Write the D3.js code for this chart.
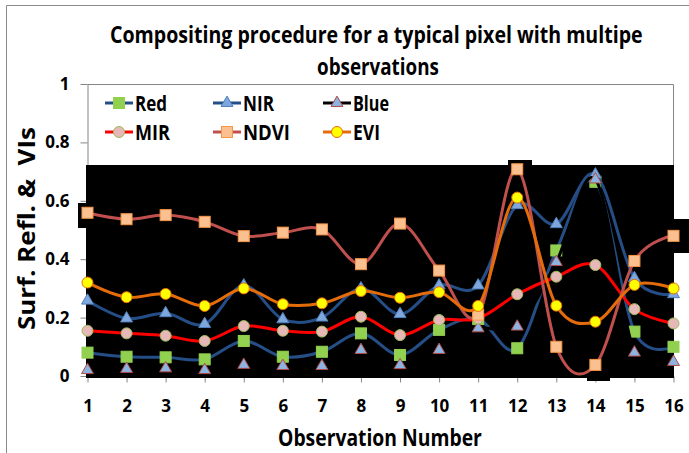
<!DOCTYPE html>
<html><head><meta charset="utf-8">
<script src="https://cdn.jsdelivr.net/npm/d3@7"></script>
<style>body{margin:0;background:#fff}svg{display:block}text{font-family:"Open Sans","Liberation Sans",Arial,sans-serif;font-weight:bold;fill:#000}</style>
</head><body>
<svg id="c" width="689" height="453"></svg>
<script>
const categories = [1,2,3,4,5,6,7,8,9,10,11,12,13,14,15,16];
const red  = [0.08,0.066,0.064,0.057,0.12,0.066,0.083,0.146,0.072,0.158,0.195,0.095,0.43,0.665,0.152,0.10];
const nir  = [0.258,0.197,0.215,0.178,0.31,0.194,0.2,0.30,0.212,0.31,0.31,0.585,0.52,0.69,0.335,0.28];
const blue = [0.02,0.024,0.026,0.02,0.038,0.034,0.034,0.089,0.037,0.089,0.163,0.169,0.39,0.673,0.08,0.048];
const mir  = [0.155,0.146,0.138,0.12,0.171,0.155,0.152,0.203,0.14,0.192,0.197,0.28,0.34,0.38,0.229,0.18];
const ndvi = [0.559,0.537,0.551,0.528,0.479,0.491,0.502,0.383,0.522,0.361,0.21,0.708,0.10,0.038,0.394,0.48];
const evi  = [0.32,0.27,0.281,0.24,0.30,0.246,0.249,0.291,0.268,0.287,0.24,0.611,0.241,0.186,0.312,0.30];
const yTicks = [0,0.2,0.4,0.6,0.8,1];
const yTickLabels = ["0","0.2","0.4","0.6","0.8","1"];
const seriesNames = ["Red","NIR","Blue","MIR","NDVI","EVI"];

const series = [
  {name:"Red",  values:red,  line:"#254E87", marker:"square",   fill:"#92D050", stroke:"#92D050"},
  {name:"NIR",  values:nir,  line:"#254E87", marker:"triangle", fill:"#7FA7DB", stroke:"#4F81BD"},
  {name:"Blue", values:blue, line:"#000000", marker:"triangle", fill:"#8DB3E2", stroke:"#B04A46"},
  {name:"MIR",  values:mir,  line:"#FF0000", marker:"circle",   fill:"#E6B9B8", stroke:"#9BBB59"},
  {name:"NDVI", values:ndvi, line:"#C0504D", marker:"square",   fill:"#FAC090", stroke:"#F79646"},
  {name:"EVI",  values:evi,  line:"#E46C0A", marker:"circle",   fill:"#FFFF00", stroke:"#E46C0A"}
];

const svg = d3.select("#c");
const x = d3.scaleLinear().domain([1,16]).range([87.5,673.5]);
const y = d3.scaleLinear().domain([0,1]).range([376,84]);

// text fitted to a width by horizontal scaling (condensed look)
function fitText(parent, str, tx, ty, size, width, rot){
  const g = parent.append("g");
  const t = g.append("text").attr("x",0).attr("y",0).attr("font-size",size)
    .attr("xml:space","preserve").style("white-space","pre").text(str);
  const w = t.node().getComputedTextLength() || width;
  const sx = width / w;
  g.attr("transform",`translate(${tx},${ty})${rot?` rotate(${rot})`:""} scale(${sx},1)`);
  return g;
}

// outer border (top and left edges visible in the frame)
svg.append("path").attr("d","M6.5,453V5.5H689")
  .attr("fill","none").attr("stroke","#8a8a8a").attr("stroke-width",1);

// title
fitText(svg,"Compositing procedure for a typical pixel with multipe",110,43,23,533);
fitText(svg,"observations",317,75,23,122);

// plot area border
svg.append("path").attr("d","M87.5,84.5H673.5V376")
  .attr("fill","none").attr("stroke","#868686").attr("stroke-width",1);

// axes
const yAxis = d3.axisLeft(y).tickValues(yTicks).tickSize(7).tickSizeOuter(0).tickPadding(11)
  .tickFormat((d,i)=>yTickLabels[i]);
const gy = svg.append("g").attr("transform","translate(87.5,0)").call(yAxis);
const xAxis = d3.axisBottom(x).tickValues(categories).tickSize(6).tickSizeOuter(0).tickPadding(17)
  .tickFormat(d=>String(d));
const gx = svg.append("g").attr("transform","translate(0,376.5)").call(xAxis);
[gy,gx].forEach(g=>{
  g.selectAll("path,line").attr("stroke","#868686");
  g.selectAll("text").attr("font-size",17).attr("font-family","Open Sans, Liberation Sans, Arial, sans-serif").attr("font-weight","bold").attr("fill","#000");
});

// axis titles
fitText(svg,"Surf. Refl. &  VIs",35,330,23,203,-90);
fitText(svg,"Observation Number",278,446,23,204);

// black artifact region
const blk = svg.append("g").attr("fill","#000");
blk.append("rect").attr("x",86).attr("y",165).attr("width",588).attr("height",213);
blk.append("rect").attr("x",78).attr("y",203).attr("width",10).attr("height",25);
blk.append("rect").attr("x",508).attr("y",160).attr("width",24).attr("height",6);
blk.append("rect").attr("x",672).attr("y",219).attr("width",17).attr("height",34);
blk.append("rect").attr("x",587).attr("y",377).attr("width",23).attr("height",4);

// markers
function drawMarker(g, s, cx, cy, scale){
  scale = scale||1;
  if(s.marker==="square"){
    const w=11*scale;
    g.append("rect").attr("x",cx-w/2).attr("y",cy-w/2).attr("width",w).attr("height",w)
      .attr("fill",s.fill).attr("stroke",s.stroke).attr("stroke-width",1);
  } else if(s.marker==="circle"){
    g.append("circle").attr("cx",cx).attr("cy",cy).attr("r",5.5*scale)
      .attr("fill",s.fill).attr("stroke",s.stroke).attr("stroke-width",1);
  } else {
    g.append("path").attr("d",d3.symbol(d3.symbolTriangle, 62*scale*scale)())
      .attr("transform",`translate(${cx},${cy})`)
      .attr("fill",s.fill).attr("stroke",s.stroke).attr("stroke-width",1);
  }
}

const line = d3.line().x((d,i)=>x(categories[i])).y(d=>y(d)).curve(d3.curveCatmullRom.alpha(0));
series.forEach(s=>{
  const g = svg.append("g");
  g.append("path").attr("d",line(s.values)).attr("fill","none")
    .attr("stroke",s.line).attr("stroke-width",3).attr("stroke-linejoin","round");
  s.values.forEach((v,i)=>drawMarker(g,s,x(categories[i]),y(v)));
});

// legend
const legPos = [[105,103],[213,103],[323,103],[105,132],[213,132],[323,132]];
const legLen = [32,31,36,35,47,27];
series.forEach((s,i)=>{
  const [lx,ly]=legPos[i];
  const g = svg.append("g");
  g.append("line").attr("x1",lx).attr("x2",lx+28).attr("y1",ly).attr("y2",ly)
    .attr("stroke",s.line).attr("stroke-width",3);
  drawMarker(g,s,lx+14,ly);
  fitText(g,seriesNames[i],lx+30,ly+8,21,legLen[i]);
});
</script>
</body></html>
